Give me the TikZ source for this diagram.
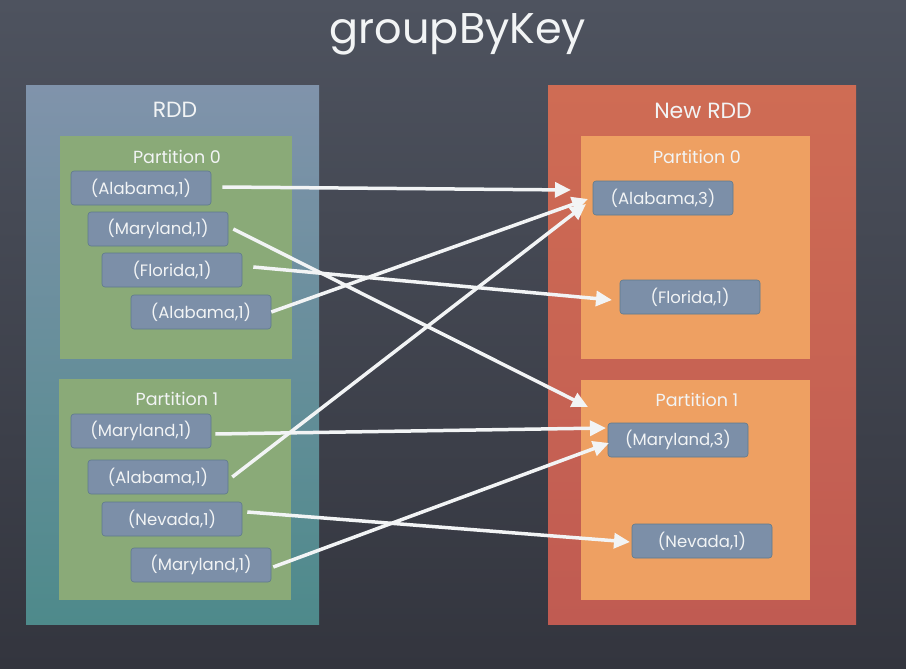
\documentclass[tikz,border=0pt]{standalone}
\usepackage{fontspec}
\setmainfont{Poppins}
\usetikzlibrary{arrows.meta}
\definecolor{bgtop}{HTML}{4E535F}
\definecolor{bgbot}{HTML}{33353E}
\definecolor{rddtop}{HTML}{8093AB}
\definecolor{rddmid}{HTML}{6F8EA2}
\definecolor{rddbot}{HTML}{4E8A8B}
\definecolor{newtop}{HTML}{CF6C54}
\definecolor{newbot}{HTML}{C05B52}
\definecolor{partgreen}{HTML}{8AAA78}
\definecolor{partorange}{HTML}{EEA062}
\definecolor{itemblue}{HTML}{7C8FA8}
\definecolor{itemedge}{HTML}{5F7A8C}
\definecolor{chalk}{HTML}{F2F4F5}
\tikzset{
  item/.style={rectangle, rounded corners=3pt, fill=itemblue, draw=itemedge, line width=0.6pt,
    minimum width=140pt, minimum height=34pt, text=chalk, font=\fontsize{16.5}{16.5}\selectfont, inner sep=0pt},
  plabel/.style={text=chalk, font=\fontsize{17.5}{17.5}\selectfont},
  rlabel/.style={text=chalk, font=\fontsize{22}{22}\selectfont},
  flow/.style={draw=chalk, line width=3.5pt, -{Triangle[length=16pt,width=15pt]}}
}
\begin{document}
\begin{tikzpicture}[x=1pt,y=-1pt]
\shade[top color=bgtop, bottom color=bgbot] (0,0) rectangle (906,669);
\useasboundingbox (0,0) rectangle (906,669);
\node[text=chalk, font=\fontsize{43}{43}\selectfont] (title) at (458,34) {groupByKey};
% left RDD
\shade[top color=rddtop, middle color=rddmid, bottom color=rddbot] (26,86) rectangle (319,624);
\node[rlabel] (rdd) at (175,110) {RDD};
\fill[partgreen] (60,136) rectangle (292,359);
\node[plabel] (lp0) at (177,157) {Partition 0};
\fill[partgreen] (59,379) rectangle (291,600);
\node[plabel] (lp1) at (177,399) {Partition 1};
\node[item] (a1) at (141,188) {(Alabama,1)};
\node[item] (a2) at (158,229) {(Maryland,1)};
\node[item] (a3) at (172,270) {(Florida,1)};
\node[item] (a4) at (201,312) {(Alabama,1)};
\node[item] (b1) at (141,431) {(Maryland,1)};
\node[item] (b2) at (158,477) {(Alabama,1)};
\node[item] (b3) at (172,519) {(Nevada,1)};
\node[item] (b4) at (201,565) {(Maryland,1)};
% right New RDD
\shade[top color=newtop, bottom color=newbot] (548,86) rectangle (856,624);
\node[rlabel] (nrdd) at (703,111) {New RDD};
\fill[partorange] (581,136) rectangle (810,359);
\node[plabel] (rp0) at (697,157) {Partition 0};
\fill[partorange] (581,380) rectangle (810,600);
\node[plabel] (rp1) at (697,400) {Partition 1};
\node[item] (c1) at (663,198) {(Alabama,3)};
\node[item] (c2) at (690,297) {(Florida,1)};
\node[item] (d1) at (678,440) {(Maryland,3)};
\node[item] (d2) at (702,541) {(Nevada,1)};
% arrow tips
\coordinate (t1) at (571,190);
\coordinate (t4) at (588,199);
\coordinate (t6) at (586,204);
\coordinate (t3) at (612,300);
\coordinate (t2) at (588,407);
\coordinate (t5) at (606,428);
\coordinate (t8) at (609,443);
\coordinate (t7) at (630,542);
% arrows
\draw[flow] ([xshift=11pt,yshift=1pt]a1.east) -- (t1);
\draw[flow] ([xshift=5pt]a2.east) -- (t2);
\draw[flow] ([xshift=11pt,yshift=3pt]a3.east) -- (t3);
\draw[flow] ([xshift=0pt]a4.east) -- (t4);
\draw[flow] ([xshift=4pt,yshift=-3pt]b1.east) -- (t5);
\draw[flow] ([xshift=4pt]b2.east) -- (t6);
\draw[flow] ([xshift=5pt,yshift=7pt]b3.east) -- (t7);
\draw[flow] ([xshift=2pt,yshift=-2pt]b4.east) -- (t8);
\end{tikzpicture}
\end{document}
